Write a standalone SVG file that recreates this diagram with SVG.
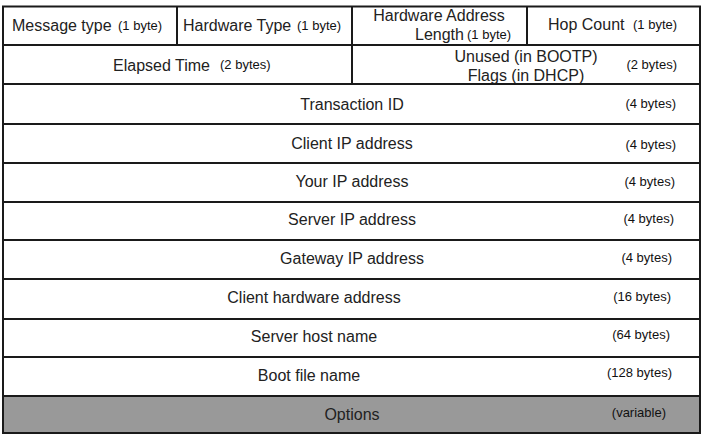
<svg xmlns="http://www.w3.org/2000/svg" width="703" height="439" viewBox="0 0 703 439">
<style>
.cell{fill:#ffffff;stroke:none}
.opt{fill:#999999;stroke:none}
.ln{stroke:#1a1a1a;stroke-width:2;fill:none}
.lbl{font-family:"Liberation Sans",Arial,sans-serif;font-size:16px;fill:#222222}
.sz{font-family:"Liberation Sans",Arial,sans-serif;font-size:13px;fill:#111111}
.c{text-anchor:middle}
.e{text-anchor:end}
</style>
<rect x="0" y="0" width="703" height="439" fill="#ffffff"/>
<g id="message-type">
<text class="lbl" x="12" y="31">Message type</text>
<text class="sz" x="118" y="30">(1 byte)</text>
</g>
<g id="hardware-type">
<text class="lbl" x="183" y="31">Hardware Type</text>
<text class="sz" x="297" y="30">(1 byte)</text>
</g>
<g id="hardware-address-length">
<text class="lbl c" x="439" y="21">Hardware Address</text>
<text class="lbl" x="415" y="40">Length</text>
<text class="sz" x="467" y="39">(1 byte)</text>
</g>
<g id="hop-count">
<text class="lbl" x="548" y="30">Hop Count</text>
<text class="sz" x="633" y="29">(1 byte)</text>
</g>
<g id="elapsed-time">
<text class="lbl" x="113" y="71">Elapsed Time</text>
<text class="sz" x="220" y="69">(2 bytes)</text>
</g>
<g id="flags">
<text class="lbl c" x="526" y="62">Unused (in BOOTP)</text>
<text class="lbl c" x="526" y="81">Flags (in DHCP)</text>
<text class="sz e" x="677" y="69">(2 bytes)</text>
</g>
<g id="transaction-id">
<text class="lbl c" x="352" y="110">Transaction ID</text>
<text class="sz e" x="676" y="108">(4 bytes)</text>
</g>
<g id="client-ip">
<text class="lbl c" x="352" y="149">Client IP address</text>
<text class="sz e" x="676" y="149">(4 bytes)</text>
</g>
<g id="your-ip">
<text class="lbl c" x="352" y="187">Your IP address</text>
<text class="sz e" x="675" y="186">(4 bytes)</text>
</g>
<g id="server-ip">
<text class="lbl c" x="352" y="225">Server IP address</text>
<text class="sz e" x="674" y="223">(4 bytes)</text>
</g>
<g id="gateway-ip">
<text class="lbl c" x="352" y="264">Gateway IP address</text>
<text class="sz e" x="672" y="262">(4 bytes)</text>
</g>
<g id="client-hardware-address">
<text class="lbl c" x="314" y="303">Client hardware address</text>
<text class="sz e" x="671" y="301">(16 bytes)</text>
</g>
<g id="server-host-name">
<text class="lbl c" x="314" y="342">Server host name</text>
<text class="sz e" x="670" y="339">(64 bytes)</text>
</g>
<g id="boot-file-name">
<text class="lbl c" x="309" y="381">Boot file name</text>
<text class="sz e" x="672" y="377">(128 bytes)</text>
</g>
<g id="options">
<rect class="opt" x="3" y="396" width="697" height="37"/>
<text class="lbl c" x="352" y="420">Options</text>
<text class="sz e" x="666" y="417">(variable)</text>
</g>
<g id="grid">
<rect class="ln" x="3" y="6.5" width="697" height="426.5"/>
<path class="ln" d="M3 45H700M3 84H700M3 124H700M3 163H700M3 202H700M3 240H700M3 279H700M3 319H700M3 357H700M3 396H700"/>
<path class="ln" d="M177 6.5V45M527 6.5V45M352 6.5V84"/>
</g>
</svg>
